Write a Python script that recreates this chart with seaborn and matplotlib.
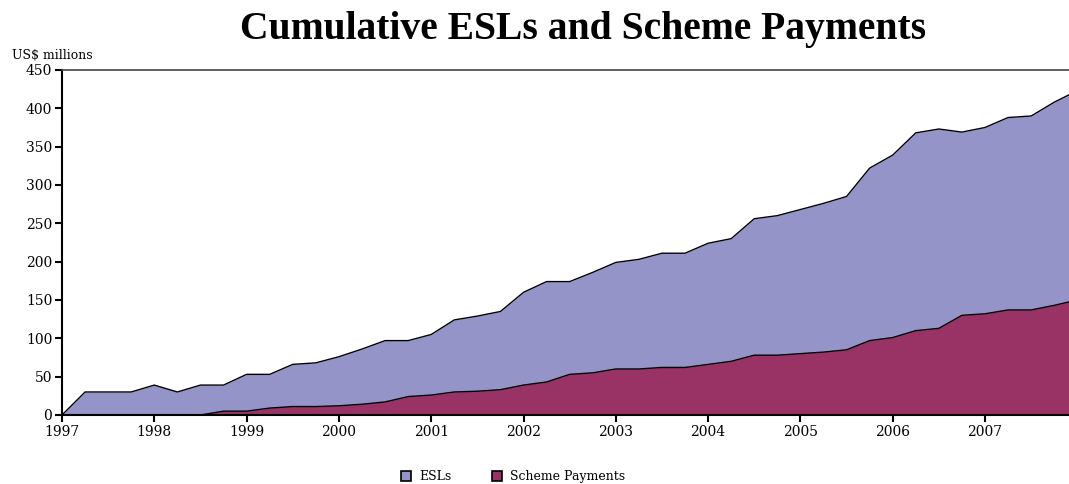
import numpy as np
import pandas as pd
import matplotlib
matplotlib.use("Agg")
import matplotlib.pyplot as plt
import seaborn as sns
from matplotlib.patches import Patch

# quarterly cumulative values, US$ millions
quarters = pd.period_range("1997Q1", "2008Q1", freq="Q")
esls = [0, 30, 30, 30,
        39, 30, 39, 39,
        53, 53, 66, 68,
        76, 86, 97, 97,
        105, 124, 129, 135,
        160, 174, 174, 186,
        199, 203, 211, 211,
        224, 230, 256, 260,
        268, 276, 285, 322,
        339, 368, 373, 369,
        375, 388, 390, 408,
        423]
scheme_payments = [0, 0, 0, 0,
                   0, 0, 0, 5,
                   5, 9, 11, 11,
                   12, 14, 17, 24,
                   26, 30, 31, 33,
                   39, 43, 53, 55,
                   60, 60, 62, 62,
                   66, 70, 78, 78,
                   80, 82, 85, 97,
                   101, 110, 113, 130,
                   132, 137, 137, 143,
                   150]
year_ticks = list(range(1997, 2008))
y_ticks = list(range(0, 451, 50))

df = pd.DataFrame({
    "t": quarters.year + (quarters.quarter - 1) / 4,
    "ESLs": esls,
    "Scheme Payments": scheme_payments,
})

sns.set_style("white")
plt.rcParams["font.family"] = ["DejaVu Serif"]
plt.rcParams["text.color"] = "black"
plt.rcParams["xtick.color"] = "black"
plt.rcParams["ytick.color"] = "black"

esl_color = "#9494c8"
sp_color = "#993366"

fig = plt.figure(figsize=(10.69, 4.84), dpi=100)
ax = fig.add_axes([0.058, 0.1426, 0.942, 0.7128])

ax.fill_between(df["t"], 0, df["ESLs"], color=esl_color, lw=0)
sns.lineplot(data=df, x="t", y="ESLs", color="black", lw=1, ax=ax)
ax.fill_between(df["t"], 0, df["Scheme Payments"], color=sp_color, lw=0)
sns.lineplot(data=df, x="t", y="Scheme Payments", color="black", lw=1, ax=ax)

ax.set_xlim(1997, 2007.91)
ax.set_ylim(0, 450)
ax.set_xticks(year_ticks)
ax.set_xticklabels([str(y) for y in year_ticks], fontsize=10)
ax.set_yticks(y_ticks)
ax.set_yticklabels([str(v) for v in y_ticks], fontsize=10)
ax.tick_params(axis="both", direction="out", length=5, width=1.5, color="black",
               labelcolor="black", bottom=True, left=True, pad=2)
ax.set_xlabel("")
ax.set_ylabel("")

for side in ["left", "bottom"]:
    ax.spines[side].set_color("black")
    ax.spines[side].set_linewidth(1.5)
ax.spines["top"].set_color("#444444")
ax.spines["top"].set_linewidth(1.2)
ax.spines["right"].set_visible(False)

fig.text(0.545, 0.94, "Cumulative ESLs and Scheme Payments", ha="center", va="center",
         fontsize=28.5, fontweight="bold", family="Liberation Serif", color="black")
fig.text(0.011, 0.886, "US$ millions", ha="left", va="center", fontsize=9, color="black")

handles = [Patch(facecolor=esl_color, edgecolor="black", lw=1.2, label="ESLs"),
           Patch(facecolor=sp_color, edgecolor="black", lw=1.2, label="Scheme Payments")]
leg = fig.legend(handles=handles, loc="center", bbox_to_anchor=(0.48, 0.015), ncol=2,
                 frameon=False, fontsize=9, handlelength=0.8, handleheight=0.8,
                 columnspacing=3.3, handletextpad=0.6)
for t in leg.get_texts():
    t.set_color("black")

fig.savefig("out.png", dpi=100)
